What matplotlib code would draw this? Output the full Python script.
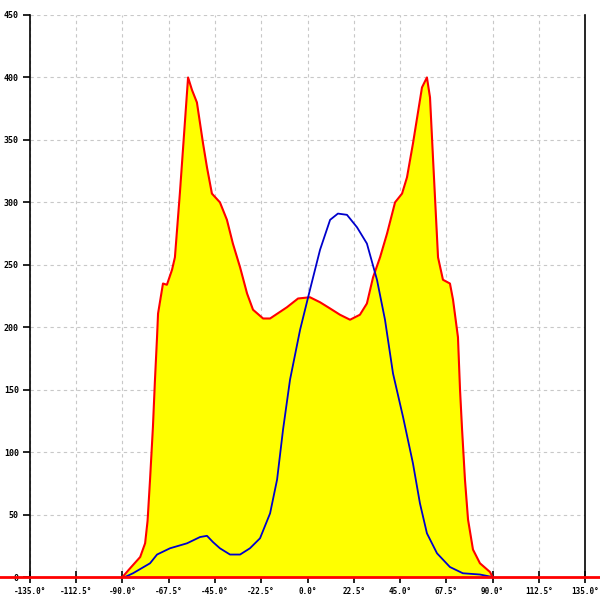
import matplotlib
matplotlib.use("Agg")
import matplotlib.pyplot as plt

# Красная кривая (заливка жёлтым)
red_x = [-90, -86.3, -81.4, -79.0, -77.8, -76.6, -75.2, -74.2, -73.2, -72.7, -70.3, -68.4,
         -65.9, -64.5, -62.1, -58.1, -56.2, -53.8, -50.8, -48.9, -46.5, -42.6, -39.2,
         -36.3, -32.8, -29.4, -26.5, -21.6, -18.2, -10.0, -4.6, 1.2, 6.1, 11.0, 15.8,
         20.7, 25.5, 28.9, 31.9, 35.3, 38.7, 42.6, 46.0, 48.4, 51.3, 55.7, 58.1, 59.6,
         61.1, 63.5, 65.9, 69.3, 70.8, 73.2, 74.2, 75.2, 76.6, 78.1, 80.5, 83.9, 88.8, 90]
red_y = [0, 7, 16, 27, 45, 78, 120, 158, 192, 211, 235, 234,
         246, 256, 307, 400, 390, 380, 347, 328, 307, 300, 286,
         267, 248, 227, 214, 207, 207, 216, 223, 224, 220, 215, 210,
         206, 210, 219, 240, 256, 275, 300, 307, 320, 347, 392, 400, 384,
         334, 256, 238, 235, 222, 192, 150, 118, 78, 46, 22, 11, 4, 0]

# Синяя кривая
blue_x = [-88.8, -84.9, -76.6, -73.2, -66.9, -58.6, -52.3, -48.9, -46.0, -42.6, -37.7,
          -32.8, -28.0, -23.1, -18.2, -14.8, -11.9, -8.5, -3.6, 1.2, 6.1, 11.0, 14.8,
          19.2, 24.1, 28.9, 33.8, 37.7, 41.6, 46.5, 51.3, 54.7, 58.1, 63.0, 69.3, 75.6,
          83.9, 90]
blue_y = [0, 3, 11, 18, 23, 27, 32, 33, 28, 23, 18,
          18, 23, 31, 51, 78, 118, 158, 198, 230, 262, 286, 291,
          290, 280, 267, 238, 206, 163, 128, 91, 59, 35, 19, 8, 3,
          2, 0]

x_ticks = [-135, -112.5, -90, -67.5, -45, -22.5, 0, 22.5, 45, 67.5, 90, 112.5, 135]
y_ticks = list(range(0, 451, 50))

plt.rcParams['font.family'] = ['DejaVu Sans Mono']

fig = plt.figure(figsize=(6, 6), dpi=100)
ax = fig.add_axes([0.05, 0.0383, 0.925, 0.9367])

ax.fill_between(red_x, red_y, 0, color='#ffff00', lw=0, zorder=2)
ax.plot(red_x, red_y, color='#ff0000', lw=1.5, zorder=3)
ax.plot(blue_x, blue_y, color='#0000cc', lw=1.3, zorder=4)
# линия нуля через всю ширину
ax.axhline(0, xmin=-30 / 555, xmax=1 + 15 / 555, color='#ff0000', lw=2,
           clip_on=False, zorder=5)

ax.set_xlim(-135, 135)
ax.set_ylim(0, 450)
ax.set_xticks(x_ticks)
ax.set_xticklabels([f"{t:.1f}°" for t in x_ticks], fontweight='bold')
ax.set_yticks(y_ticks)
ax.set_yticklabels([str(t) for t in y_ticks], fontweight='bold')
ax.grid(True, color='#c8c8c8', linestyle=(0, (3, 3)), lw=0.8, zorder=1)

for s in ['top', 'bottom']:
    ax.spines[s].set_visible(False)
ax.spines['left'].set_linewidth(1.2)
ax.spines['right'].set_linewidth(1.2)
ax.tick_params(axis='y', direction='out', length=5, width=1.2, labelsize=6, pad=3)
ax.tick_params(axis='x', direction='inout', length=9, width=1.2, labelsize=5.5, pad=3)

fig.savefig('out.png', dpi=100)
